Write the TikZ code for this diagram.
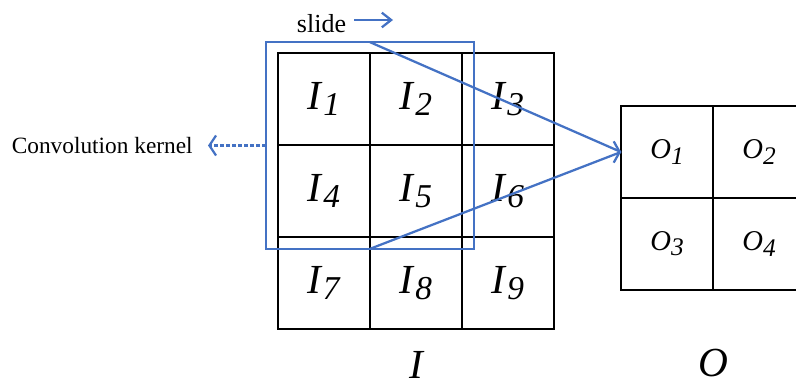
\documentclass[tikz,border=0pt]{standalone}
\usepackage{fontspec}
\setmainfont{Liberation Serif}
\usetikzlibrary{arrows.meta, positioning}
\definecolor{kernelblue}{HTML}{4472C4}

\newcommand{\subI}[1]{\textit{I}\raisebox{-4.5pt}{\fontsize{25}{25}\selectfont\textit{#1}}}
\newcommand{\subO}[1]{\textit{O}\raisebox{-3.8pt}{\fontsize{19}{19}\selectfont\textit{#1}}}

\begin{document}
\begin{tikzpicture}[
  x=0.75pt, y=-0.75pt,
  node distance=0pt,
  cell/.style={
    draw, line width=1.9pt, minimum size=69pt, inner sep=0pt, outer sep=0pt,
    font=\fontsize{31}{34}\selectfont
  },
  outcell/.style={cell, font=\fontsize{21.5}{24}\selectfont},
  kernelbox/.style={
    draw=kernelblue, line width=1.7pt, minimum width=156pt, minimum height=155pt,
    inner sep=0pt, outer sep=0pt
  },
  blueline/.style={draw=kernelblue, line width=1.7pt},
  biglabel/.style={font=\fontsize{31}{34}\selectfont\itshape},
  textlabel/.style={font=\fontsize{17.5}{20}\selectfont}
]
\useasboundingbox (0,0) rectangle (796,389);

% --- Input grid ---
\node[cell] (i1) at (324,99) {\subI{1}};
\node[cell, right=of i1] (i2) {\subI{2}};
\node[cell, right=of i2] (i3) {\subI{3}};
\node[cell, below=of i1] (i4) {\subI{4}};
\node[cell, right=of i4] (i5) {\subI{5}};
\node[cell, right=of i5] (i6) {\subI{6}};
\node[cell, below=of i4] (i7) {\subI{7}};
\node[cell, right=of i7] (i8) {\subI{8}};
\node[cell, right=of i8] (i9) {\subI{9}};

% --- Output grid ---
\node[outcell] (o1) at (667,152) {\subO{1}};
\node[outcell, right=of o1] (o2) {\subO{2}};
\node[outcell, below=of o1] (o3) {\subO{3}};
\node[outcell, right=of o3] (o4) {\subO{4}};

% --- Grid names ---
\node[biglabel, below=13pt of i8] (inlabel) {I};
\node[biglabel, below=41pt of o3.south east] (outlabel) {O};

% --- Kernel ---
\node[kernelbox] (kernel) at (370,145.5) {};
\draw[blueline] (kernel.north) -- (o1.west);
\draw[blueline] (kernel.south) -- (o1.west);
\draw[blueline, -{Straight Barb[length=4.5pt, width=16pt]}] ([xshift=-1pt]o1.west) -- (o1.west);

% --- Kernel label ---
\coordinate[left=43.5pt of kernel.west] (kerneltip);
\draw[blueline, dash pattern=on 3pt off 1.5pt, -{Straight Barb[length=5pt, width=15pt]}]
  (kernel.west) -- (kerneltip);
\node[textlabel, left=8pt of kerneltip] (kernellabel) {Convolution kernel};

% --- Slide label ---
\node[textlabel, font=\fontsize{19.5}{22}\selectfont] (slide) at (321.5,23.5) {slide};
\coordinate (slidetip) at (393,20);
\draw[blueline, -{Straight Barb[length=7pt, width=11pt]}]
  ([xshift=2.5pt]slide.east |- slidetip) -- (slidetip);

\end{tikzpicture}
\end{document}
